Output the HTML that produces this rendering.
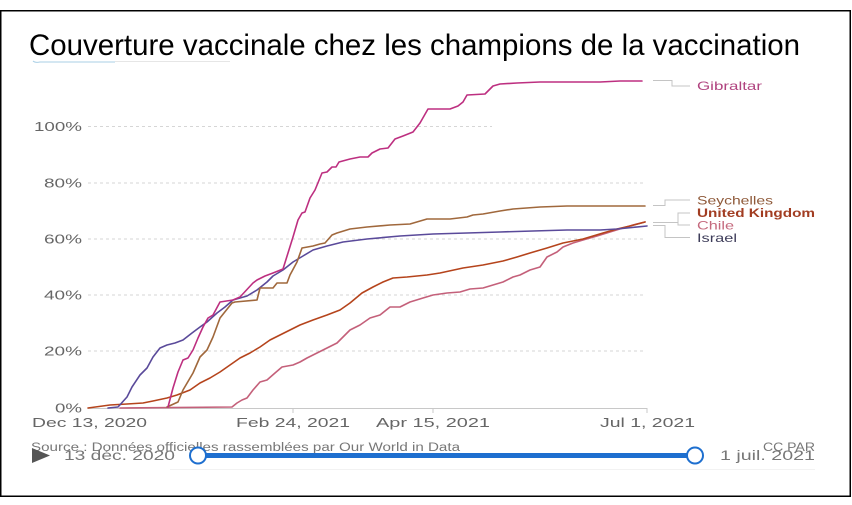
<!DOCTYPE html>
<html><head><meta charset="utf-8"><style>
html,body{margin:0;padding:0;background:#fff;width:852px;height:505px;overflow:hidden}
svg{display:block}
text{font-family:"Liberation Sans",sans-serif}
</style></head><body>
<svg width="852" height="505" viewBox="0 0 852 505" xmlns="http://www.w3.org/2000/svg">
<rect x="0" y="0" width="852" height="505" fill="#fff"/>
<rect x="0.75" y="10.75" width="849.5" height="485.5" fill="none" stroke="#000" stroke-width="1.5"/>
<!-- title -->
<text x="29" y="55" font-size="30" fill="#000" textLength="771" lengthAdjust="spacingAndGlyphs">Couverture vaccinale chez les champions de la vaccination</text>
<path d="M33 61 Q35 63 40 62 L115 62" stroke="#a9cfe6" stroke-width="1" fill="none"/>
<path d="M115 61.5 L230 61.5" stroke="#e6e6e6" stroke-width="1" fill="none"/>
<!-- gridlines -->
<g stroke="#d6d6d6" stroke-width="1" stroke-dasharray="3,3" fill="none">
<path d="M88 126.5 H492"/>
<path d="M88 183 H645"/>
<path d="M88 239 H645"/>
<path d="M88 295 H645"/>
<path d="M88 351 H645"/>
</g>
<!-- axis -->
<path d="M88 408.5 H647" stroke="#c8c8c8" stroke-width="1"/>
<g stroke="#c8c8c8" stroke-width="1"><path d="M293 408 V413"/><path d="M433 408 V413"/><path d="M647 408 V413"/></g>
<!-- y labels -->
<g fill="#666" font-size="12.5" text-anchor="end">
<text x="82" y="131" textLength="48" lengthAdjust="spacingAndGlyphs">100%</text>
<text x="82" y="187.5" textLength="38" lengthAdjust="spacingAndGlyphs">80%</text>
<text x="82" y="243.5" textLength="38" lengthAdjust="spacingAndGlyphs">60%</text>
<text x="82" y="299.5" textLength="38" lengthAdjust="spacingAndGlyphs">40%</text>
<text x="82" y="355.5" textLength="38" lengthAdjust="spacingAndGlyphs">20%</text>
<text x="82" y="412.5" textLength="27" lengthAdjust="spacingAndGlyphs">0%</text>
</g>
<!-- x labels -->
<g fill="#666" font-size="13">
<text x="32" y="427" textLength="115" lengthAdjust="spacingAndGlyphs">Dec 13, 2020</text>
<text x="236" y="427" textLength="114" lengthAdjust="spacingAndGlyphs">Feb 24, 2021</text>
<text x="376" y="427" textLength="114" lengthAdjust="spacingAndGlyphs">Apr 15, 2021</text>
<text x="600" y="427" textLength="95" lengthAdjust="spacingAndGlyphs">Jul 1, 2021</text>
</g>
<!-- series -->
<g fill="none" stroke-width="1.6" stroke-linejoin="round" stroke-linecap="round">
<path stroke="#c4607a" d="M120 408 L232 407 L237 403 L242 400 L247 398 L253 390 L260 382 L267 380 L275 373 L282 367 L293 365 L300 362 L307 358 L317 353 L327 348 L337 343 L350 330 L360 325 L370 318 L380 315 L390 307 L400 307 L410 302 L423 298 L433 295 L447 293 L460 292 L470 289 L483 288 L493 285 L503 282 L513 277 L520 275 L530 270 L540 267 L547 257 L557 252 L563 247 L573 243 L583 240 L597 236 L610 232 L623 228 L633 225 L645 222"/>
<path stroke="#b5441c" d="M88 408 L110 405 L127 404 L143 403 L153 401 L167 398 L177 395 L190 390 L200 383 L210 378 L220 372 L230 365 L240 358 L250 353 L260 347 L270 340 L280 335 L290 330 L300 325 L313 320 L327 315 L340 310 L350 303 L362 293 L373 287 L383 282 L393 278 L407 277 L427 275 L440 273 L463 268 L483 265 L503 261 L517 257 L530 253 L547 248 L563 243 L583 239 L603 233 L617 229 L630 226 L645 222"/>
<path stroke="#5a4a9a" d="M108 408 L118 407 L127 397 L132 387 L140 375 L147 368 L153 357 L160 348 L167 345 L175 343 L183 340 L192 333 L200 327 L207 322 L217 313 L225 307 L233 300 L247 296 L257 290 L267 282 L273 276 L283 270 L293 262 L303 256 L313 250 L327 246 L343 242 L367 239 L400 236 L433 234 L467 233 L500 232 L533 231 L567 230 L600 230 L617 229 L647 226"/>
<path stroke="#a0683c" d="M167 407 L178 402 L183 390 L193 373 L200 357 L207 350 L213 337 L220 318 L232 303 L235 302 L257 300 L260 288 L273 288 L277 283 L287 283 L290 275 L297 262 L302 248 L313 246 L320 244 L325 243 L332 235 L337 233 L350 229 L367 227 L390 225 L410 224 L427 219 L450 219 L467 217 L473 215 L483 214 L500 211 L513 209 L540 207 L567 206 L645 206"/>
<path stroke="#bd2f80" d="M168 407 L173 388 L178 372 L183 360 L188 358 L193 350 L198 338 L203 327 L208 318 L213 315 L220 302 L233 300 L240 297 L253 283 L257 280 L265 276 L273 273 L283 269 L288 253 L293 237 L298 220 L302 213 L305 212 L310 198 L315 190 L322 173 L327 172 L332 167 L336 167 L339 162 L350 159 L360 157 L368 157 L372 153 L380 149 L388 148 L395 139 L403 136 L413 132 L420 123 L428 109 L450 109 L458 106 L463 102 L467 95 L485 94 L493 86 L500 84 L517 83 L540 82 L600 82 L620 81 L642 81"/>
</g>
<!-- legend leader lines -->
<g stroke="#c4c4c4" stroke-width="1" fill="none">
<path d="M653 80.5 H672 V86 H690"/>
<path d="M653 205.5 H665 V200 H690"/>
<path d="M653 222.5 H678 V213 H690 M678 222.5 V225 H690"/>
<path d="M653 225.5 H665 V237.5 H690"/>
</g>
<g font-size="12">
<text x="697" y="90" fill="#b0437f" textLength="65" lengthAdjust="spacingAndGlyphs">Gibraltar</text>
<text x="697" y="204.5" fill="#8f5a3a" textLength="76" lengthAdjust="spacingAndGlyphs">Seychelles</text>
<text x="697" y="217" fill="#a23d22" font-weight="bold" textLength="118" lengthAdjust="spacingAndGlyphs">United Kingdom</text>
<text x="697" y="229.5" fill="#c56a7e" textLength="37" lengthAdjust="spacingAndGlyphs">Chile</text>
<text x="697" y="242" fill="#3e3d5a" textLength="40" lengthAdjust="spacingAndGlyphs">Israel</text>
</g>
<!-- footer -->
<text x="31" y="451" font-size="11.5" fill="#777" textLength="429" lengthAdjust="spacingAndGlyphs">Source : Données officielles rassemblées par Our World in Data</text>
<text x="763" y="451" font-size="11.5" fill="#777" textLength="52" lengthAdjust="spacingAndGlyphs">CC PAR</text>
<path d="M32 448 L50 455.5 L32 463 Z" fill="#555"/>
<text x="64" y="460" font-size="13.5" fill="#777" textLength="111" lengthAdjust="spacingAndGlyphs">13 déc. 2020</text>
<text x="720" y="460" font-size="13.5" fill="#777" textLength="95" lengthAdjust="spacingAndGlyphs">1 juil. 2021</text>
<path d="M198 455.5 H695" stroke="#1e6fcf" stroke-width="5"/>
<circle cx="198" cy="455.5" r="8" fill="#fff" stroke="#1e6fcf" stroke-width="2"/>
<circle cx="695" cy="455.5" r="8" fill="#fff" stroke="#1e6fcf" stroke-width="2"/>
<path d="M170 469.5 H815" stroke="#f2f2f2" stroke-width="1"/>
</svg>
</body></html>
